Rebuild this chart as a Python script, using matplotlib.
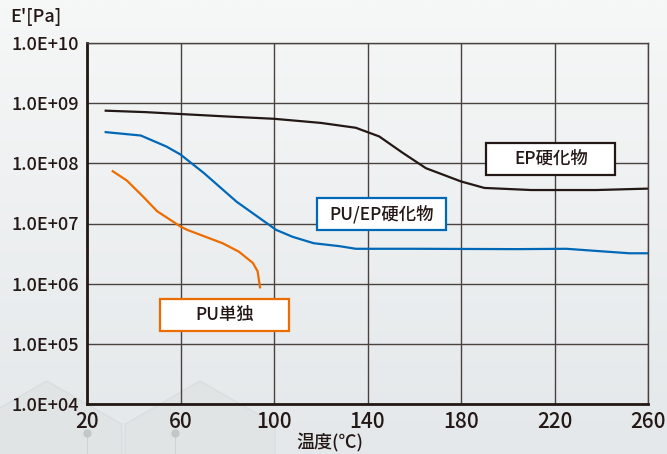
import matplotlib
matplotlib.use('Agg')
from matplotlib import pyplot as plt
from matplotlib.patches import Polygon, Rectangle
import numpy as np

plt.rcParams['font.family'] = ['Noto Sans CJK JP', 'DejaVu Sans']
plt.rcParams['font.weight'] = 'medium'

# EP硬化物 (black)
ep_temp = [28, 45, 60, 80, 100, 120, 135, 145, 155, 165, 180, 190, 210, 238, 260]
ep_mod = [7.5e8, 7.1e8, 6.6e8, 6.0e8, 5.5e8, 4.7e8, 3.9e8, 2.8e8, 1.5e8, 8.3e7, 5.0e7, 3.9e7, 3.6e7, 3.6e7, 3.8e7]

# PU/EP硬化物 (blue)
pe_temp = [28, 43, 54, 60, 70, 84, 101, 108, 117, 128, 135, 160, 204, 225, 252, 260]
pe_mod = [3.3e8, 2.9e8, 1.9e8, 1.4e8, 6.9e7, 2.3e7, 7.8e6, 6.0e6, 4.7e6, 4.2e6, 3.8e6, 3.8e6, 3.75e6, 3.8e6, 3.2e6, 3.2e6]

# PU単独 (orange)
pu_temp = [31, 37, 44, 50, 60, 63, 78, 85, 91, 93, 94]
pu_mod = [7.4e7, 5.2e7, 2.8e7, 1.6e7, 8.9e6, 7.8e6, 4.7e6, 3.4e6, 2.2e6, 1.6e6, 8.7e5]

x_ticks = [20, 60, 100, 140, 180, 220, 260]
y_ticks = [1e4, 1e5, 1e6, 1e7, 1e8, 1e9, 1e10]
y_labels = ['1.0E+04', '1.0E+05', '1.0E+06', '1.0E+07', '1.0E+08', '1.0E+09', '1.0E+10']

ink = '#231815'
grid = '#4a4240'
blue = '#0068b7'
orange = '#ed6c00'

fig = plt.figure(figsize=(6.67, 4.54), dpi=100)
fig.patch.set_facecolor('#eceff0')

# soft background gradient + faint hexagon decoration
bg = fig.add_axes([0, 0, 1, 1], zorder=-10)
grad = np.linspace(0, 1, 200).reshape(-1, 1)
bg.imshow(grad, aspect='auto', cmap=matplotlib.colors.LinearSegmentedColormap.from_list(
    'bg', ['#f6f7f7', '#e4e8ea']), extent=[0, 1, 0, 1], origin='upper')
for cx, cy in [(0.07, -0.03), (0.3, -0.03)]:
    ang = np.linspace(0, 2 * np.pi, 7) + np.pi / 6
    hx = cx + 0.13 * np.cos(ang)
    hy = cy + 0.13 * 667 / 454 * np.sin(ang)
    bg.add_patch(Polygon(np.c_[hx, hy], closed=True, facecolor='#e1e4e5', edgecolor='#d9dcdd', lw=0.8))
for dx in [87 / 667, 175 / 667]:
    bg.plot([dx, dx], [0, 21 / 454], color='#d0d3d4', lw=0.8)
    bg.plot(dx, 21 / 454, 'o', color='#c4c7c8', ms=5)
bg.set_xlim(0, 1)
bg.set_ylim(0, 1)
bg.axis('off')

ax = fig.add_axes([87 / 667, 50 / 454, 561 / 667, 361 / 454])
ax.set_facecolor('none')

ax.plot(ep_temp, ep_mod, color=ink, lw=1.6)
ax.plot(pe_temp, pe_mod, color=blue, lw=1.6)
ax.plot(pu_temp, pu_mod, color=orange, lw=1.6)

ax.set_yscale('log')
ax.set_xlim(20, 260)
ax.set_ylim(1e4, 1e10)
ax.set_xticks(x_ticks)
ax.set_xticklabels([str(t) for t in x_ticks], fontsize=15, color=ink)
ax.set_yticks(y_ticks)
ax.set_yticklabels(y_labels, fontsize=13, color=ink)
ax.yaxis.set_minor_locator(matplotlib.ticker.NullLocator())
ax.tick_params(axis='both', length=0)
ax.tick_params(axis='x', pad=5)
ax.tick_params(axis='y', pad=6)
ax.grid(True, color=grid, lw=1.0)
ax.set_axisbelow(True)
for side in ['top', 'right']:
    ax.spines[side].set_color(grid)
    ax.spines[side].set_linewidth(1.0)
for side in ['left', 'bottom']:
    ax.spines[side].set_color(ink)
    ax.spines[side].set_linewidth(2.0)

to_axes = ax.transData + ax.transAxes.inverted()
bw, bh = 129 / 561, 32 / 361


def label(x, y, text, ec):
    cx, cy = to_axes.transform((x, y))
    ax.add_patch(Rectangle((cx - bw / 2, cy - bh / 2), bw, bh, transform=ax.transAxes,
                           facecolor='white', edgecolor=ec, lw=1.6, zorder=4))
    ax.text(cx, cy, text, transform=ax.transAxes, ha='center', va='center',
            fontsize=12.5, color=ink, zorder=5)


label(218.5, 1.2e8, 'EP硬化物', ink)
label(146, 1.45e7, 'PU/EP硬化物', blue)
label(79, 3.0e5, 'PU単独', orange)

fig.text(10 / 667, 1 - 8 / 454, "E'[Pa]", ha='left', va='top', fontsize=13, color=ink)
fig.text(330 / 667, 1 - 433 / 454, '温度(℃)', ha='center', va='top', fontsize=13, color=ink)

fig.savefig('out.png', dpi=100, facecolor=fig.get_facecolor())
